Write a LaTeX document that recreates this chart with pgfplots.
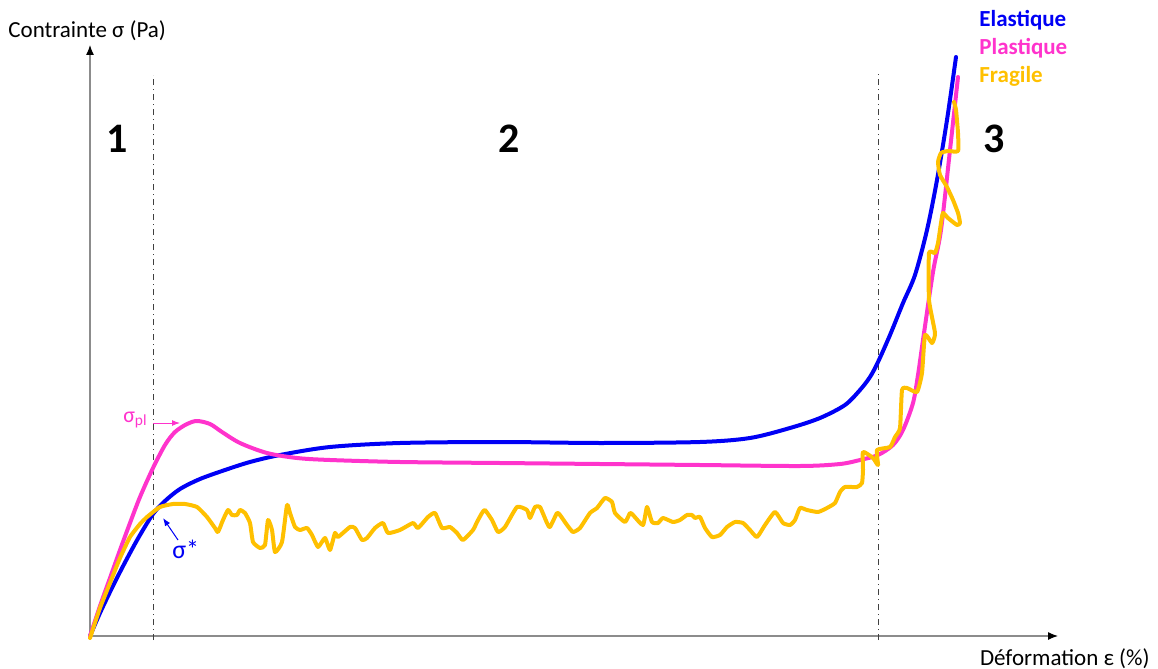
\documentclass[border=0pt]{standalone}
\usepackage{fontspec}
\setmainfont{Carlito}
\usepackage{pgfplots}
\pgfplotsset{compat=1.18}
\usetikzlibrary{arrows.meta}

\definecolor{elast}{RGB}{0,0,245}
\definecolor{plast}{RGB}{255,51,204}
\definecolor{fragil}{RGB}{255,192,0}

\begin{document}
\begin{tikzpicture}
\begin{axis}[
    scale only axis,
    width=484pt, height=295.5pt,
    xmin=0, xmax=968, ymin=0, ymax=591,
    axis lines=left,
    axis line style={black!45, line width=0.6pt},
    x axis line style={-{Latex[black,length=5pt,width=4pt]}},
    y axis line style={-{Latex[black,length=5pt,width=4pt]}},
    xtick=\empty, ytick=\empty,
    clip=false,
    every axis plot/.append style={line width=2pt, line join=round, line cap=round},
]
% full picture frame (pixel units of the reference)
\path (axis cs:-90,-32) rectangle (axis cs:1068,636);

% zone limits
\draw[black!75, line width=0.5pt, dash dot] (axis cs:63,-4) -- (axis cs:63,561);
\draw[black!75, line width=0.5pt, dash dot] (axis cs:788,-4) -- (axis cs:788,564);

% Elastique
\addplot[elast, smooth, tension=0.5] coordinates {
(0,0) (10,23) (20,44) (30,64) (40,83) (50,101) (63,122) (75,135) (90,147)
(110,157) (135,166) (160,174) (190,181) (240,189) (310,193) (410,194)
(510,193) (610,194) (660,198) (700,208) (730,218) (755,231) (770,246)
(780,259) (788,274) (800,301) (813,333) (825,361) (837,406) (847,456)
(857,516) (866,579)
};

% Plastique
\addplot[plast, smooth, tension=0.5] coordinates {
(0,0) (10,30) (20,58) (30,86) (40,113) (50,139) (63,168) (75,191)
(85,204) (97,212) (107,215) (120,212) (132,204) (150,193) (177,183)
(207,178) (240,176) (310,174) (410,173) (510,172) (610,171) (710,170)
(750,172) (770,176) (788,181) (803,191) (813,206) (823,233) (828,261)
(833,296) (843,364) (851,406) (860,486) (868,559)
};

% Fragile
\addplot[fragil, smooth, tension=0.3] coordinates {
(0,-2) (10,28) (20,53) (30,78) (40,99) (50,112) (57,119) (70,129) (83,132)
(95,132) (107,129) (117,119) (125,108) (128,104) (133,116) (138,126)
(142,121) (147,121) (150,126) (155,123) (160,113) (163,94) (170,88)
(175,91) (178,116) (182,106) (185,84) (192,94) (197,131) (200,123)
(205,109) (210,106) (217,108) (222,101) (228,89) (235,98) (240,86)
(245,103) (248,99) (260,109) (265,108) (272,96) (277,98) (285,108)
(293,113) (298,103) (310,106) (323,113) (328,108) (338,119) (345,123)
(352,108) (360,109) (367,103) (373,96) (383,106) (387,114) (392,123)
(395,126) (402,116) (408,104) (415,109) (427,129) (437,126) (440,118)
(445,129) (450,129) (457,113) (460,109) (467,123) (470,121) (477,111)
(483,104) (490,108) (500,123) (507,128) (515,138) (522,134) (525,123)
(535,114) (540,123) (543,121) (553,111) (557,129) (562,114) (568,113)
(573,118) (583,114) (590,116) (597,121) (602,121) (605,118) (610,119)
(615,108) (622,99) (630,101) (637,109) (645,114) (653,113) (660,106)
(667,99) (675,111) (685,124) (693,113) (700,111) (705,116) (710,128)
(717,126) (728,124) (737,128) (745,133) (750,144) (755,149) (767,149)
(772,153) (773,166) (773,184) (783,178) (788,171) (787,186) (800,189)
(805,199) (810,208) (812,246) (817,248) (827,244) (832,263) (835,301)
(842,293) (845,303) (839,336) (839,383) (845,383) (848,393) (851,413)
(853,423) (858,418) (867,411) (870,413) (868,423) (863,436) (857,449)
(850,461) (848,474) (851,483) (858,485) (868,485) (868,503) (866,526)
(864,534)
};

% annotations
\draw[plast, line width=0.5pt, -{Latex[length=4pt,width=3pt]}] (axis cs:63,213) -- (axis cs:90,213);
\node[plast, anchor=base east, font=\fontsize{11}{13}\selectfont, inner sep=0pt] at (axis cs:58,214) {σ\textsubscript{pl}};
\draw[elast, line width=0.5pt, -{Latex[length=4pt,width=3pt]}] (axis cs:88,96) -- (axis cs:73,118);
\node[elast, anchor=base west, font=\fontsize{13}{15}\selectfont, inner sep=0pt] at (axis cs:82,78) {σ*};

% zone numbers
\node[font=\fontsize{21}{25}\selectfont\bfseries] at (axis cs:27,497) {1};
\node[font=\fontsize{21}{25}\selectfont\bfseries] at (axis cs:419,497) {2};
\node[font=\fontsize{21}{25}\selectfont\bfseries] at (axis cs:904,497) {3};

% legend
\node[elast, anchor=base west, inner sep=0pt, font=\fontsize{11.5}{14}\selectfont\bfseries] at (axis cs:889,609) {Elastique};
\node[plast, anchor=base west, inner sep=0pt, font=\fontsize{11.5}{14}\selectfont\bfseries] at (axis cs:889,581) {Plastique};
\node[fragil, anchor=base west, inner sep=0pt, font=\fontsize{11.5}{14}\selectfont\bfseries] at (axis cs:889,553) {Fragile};

% axis titles
\node[anchor=base west, inner sep=0pt, font=\fontsize{11.5}{14}\selectfont] at (axis cs:-82,599) {Contrainte σ (Pa)};
\node[anchor=base east, inner sep=0pt, font=\fontsize{11.5}{14}\selectfont] at (axis cs:1060,-29) {Déformation ε (\%)};
\end{axis}
\end{tikzpicture}
\end{document}
